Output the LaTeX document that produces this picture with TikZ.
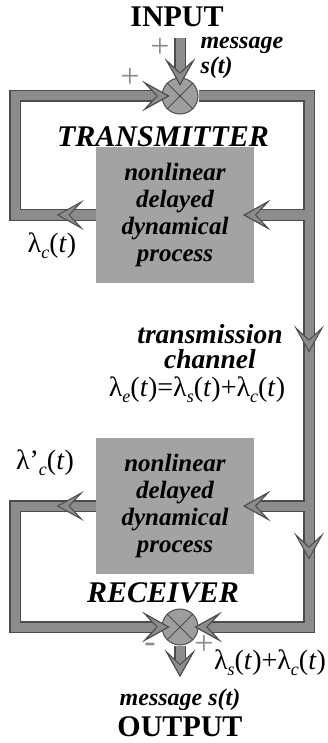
\documentclass[tikz,border=0pt]{standalone}
\usepackage{fontspec}
\setmainfont{Liberation Serif}
\usetikzlibrary{arrows.meta,decorations.markings}
\definecolor{pipegray}{gray}{0.55}
\definecolor{pipedark}{gray}{0.3}
\definecolor{boxgray}{gray}{0.64}
\definecolor{sumgray}{gray}{0.62}
\newcommand\titlefont{\fontsize{30}{34}\selectfont\bfseries}
\newcommand\headfont{\fontsize{30}{34}\selectfont\bfseries\itshape}
\newcommand\lblfont{\fontsize{24}{25}\selectfont\bfseries\itshape}
\newcommand\chanfont{\fontsize{27.5}{25}\selectfont\bfseries\itshape}
\newcommand\procfont{\fontsize{25}{27}\selectfont\bfseries\itshape}
\newcommand\formfont{\fontsize{28}{30}\selectfont}
\newcommand\signfont{\fontsize{34}{34}\selectfont}
\newcommand\lsub[1]{\raisebox{-0.5ex}{\fontsize{18}{18}\selectfont\itshape #1}}
\tikzset{chev/.tip={Stealth[length=27pt,width=30pt,inset=14pt,line width=1pt,fill=pipegray,color=pipedark]}}
\tikzset{midtip/.style={postaction={decorate,decoration={markings,mark=at position #1 with {\arrow{chev}}}}}}
\tikzstyle{pipe}=[draw=pipegray,line width=9pt,preaction={draw=pipedark,line width=12pt}]
\tikzstyle{process}=[rectangle,fill=boxgray,minimum width=158pt,minimum height=136pt,inner sep=0pt,align=center,font=\procfont]
\tikzstyle{summer}=[circle,fill=sumgray,draw=pipedark,line width=1pt,minimum size=36pt,inner sep=0pt,
  path picture={\draw[pipedark,line width=1pt] (path picture bounding box.north west) -- (path picture bounding box.south east)
    (path picture bounding box.north east) -- (path picture bounding box.south west);}]
\tikzstyle{title}=[font=\titlefont,inner sep=1pt]
\tikzstyle{head}=[font=\headfont]
\tikzstyle{lbl}=[font=\lblfont]
\tikzstyle{formula}=[font=\formfont,inner sep=1pt]
\tikzstyle{sign}=[text=pipegray,font=\signfont,inner sep=0pt]

\begin{document}
\begin{tikzpicture}[x=1pt,y=-1pt]
    \useasboundingbox (0,0) rectangle (328,743);
    % First the two processes and the two summing points
    \foreach \pos/ \name in {{(175,215)/boxT},{(175,506)/boxR}}
        \node[process] (\name) at \pos {nonlinear\\delayed\\dynamical\\process};
    \foreach \pos/ \name in {{(180,96)/sumT},{(180,627)/sumR}}
        \node[summer] (\name) at \pos {};

    % corners of the loops
    \coordinate (inTop) at (180,38);
    \coordinate (tl) at (15,96);
    \coordinate (tlb) at (15,215);
    \coordinate (tr) at (309,96);
    \coordinate (br) at (309,627);
    \coordinate (bl) at (15,627);
    \coordinate (blb) at (15,506);
    \coordinate (jT) at (304.5,215);
    \coordinate (jR) at (304.5,506);
    \coordinate (outEnd) at (180,677);

    % transmitter loop and channel
    \path[pipe,-chev,shorten >=-8pt,midtip=39pt] (boxT.west) -- (tlb) -- (tl) -- (sumT.west);
    \path[pipe,-chev,shorten >=-4pt,midtip=367pt,midtip=574pt] (sumT.east) -- (tr) -- (br) -- (sumR.east);
    \path[pipe,-chev,shorten >=-11pt] (jT) -- (boxT.east);
    \path[pipe,-chev,shorten >=-11pt] (jR) -- (boxR.east);
    % receiver loop
    \path[pipe,-chev,shorten >=-8pt,midtip=39pt] (boxR.west) -- (blb) -- (bl) -- (sumR.west);
    \path[pipe,-chev,shorten >=-8pt] (inTop) -- (sumT.north);
    \path[pipe,-chev] (sumR.south) -- (outEnd);

    % texts
    \node[title] (input) at (177,17) {INPUT};
    \node[sign] (plusIn) at (160,48) {+};
    \node[lbl,anchor=west,align=left] (msgIn) at (197,58) {message\\s(t)};
    \node[sign] (plusFb) at (130,78) {+};
    \node[head] (tx) at (163,137) {TRANSMITTER};
    \node[formula] (lamc) at (52,246) {λ\lsub{c}(\textit{t})};
    \node[font=\chanfont,align=center] (chan) at (210,347) {transmission\\channel};
    \node[formula] (lame) at (197,390) {λ\lsub{e}(\textit{t})=λ\lsub{s}(\textit{t})+λ\lsub{c}(\textit{t})};
    \node[formula] (lamcp) at (45,463) {λ'\lsub{c}(\textit{t})};
    \node[head] (rx) at (163,593) {RECEIVER};
    \node[sign] (minus) at (150,648) {-};
    \node[sign] (plusR) at (204,645) {+};
    \node[formula] (lamsc) at (270,663) {λ\lsub{s}(\textit{t})+λ\lsub{c}(\textit{t})};
    \node[lbl] (msgOut) at (180,700) {message s(t)};
    \node[title] (output) at (180,727) {OUTPUT};
\end{tikzpicture}
\end{document}
